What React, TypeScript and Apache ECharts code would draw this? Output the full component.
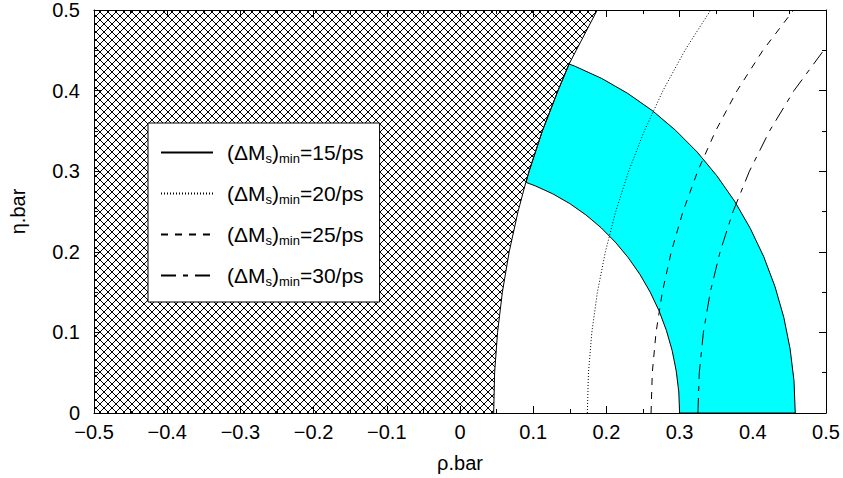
import React, { useEffect, useRef } from 'react';
import * as echarts from 'echarts';

// Axis ranges
const X_RANGE = [-0.5, 0.5];
const Y_RANGE = [0, 0.5];
const TICK_STEP = 0.1;

// Legend values (ΔM_s)_min in 1/ps
const DMS_MIN = ['15', '20', '25', '30'];
const SERIES_NAMES = DMS_MIN.map((v) => `(ΔMs)min=${v}/ps`);

// Points [rho.bar, eta.bar]
const CURVE_15: number[][] = [
  [0.046, 0], [0.0473, 0.05], [0.0513, 0.1], [0.0579, 0.15], [0.0672, 0.2],
  [0.0793, 0.25], [0.0899, 0.2861], [0.0944, 0.3], [0.1125, 0.35], [0.1339, 0.4],
  [0.149, 0.433], [0.1588, 0.45], [0.1875, 0.5],
];
const CURVE_20: number[][] = [
  [0.174, 0], [0.1755, 0.05], [0.1801, 0.1], [0.1877, 0.15], [0.1986, 0.2],
  [0.2127, 0.25], [0.2304, 0.3], [0.2518, 0.35], [0.2773, 0.4], [0.3073, 0.45],
  [0.3425, 0.5],
];
const CURVE_25: number[][] = [
  [0.261, 0], [0.2627, 0.05], [0.2678, 0.1], [0.2764, 0.15], [0.2886, 0.2],
  [0.3046, 0.25], [0.3247, 0.3], [0.3492, 0.35], [0.3786, 0.4], [0.4138, 0.45],
  [0.4558, 0.5],
];
const CURVE_30: number[][] = [
  [0.325, 0], [0.3269, 0.05], [0.3325, 0.1], [0.3419, 0.15], [0.3553, 0.2],
  [0.373, 0.25], [0.3954, 0.3], [0.4229, 0.35], [0.4563, 0.4], [0.4969, 0.45],
  [0.5, 0.453],
];
// Cyan band: outer and inner edges
const BAND_OUTER: number[][] = [
  [0.458, 0], [0.4563, 0.0399], [0.451, 0.0795], [0.4424, 0.1185], [0.4304, 0.1566],
  [0.4151, 0.1936], [0.3966, 0.229], [0.3752, 0.2627], [0.3508, 0.2944], [0.3239, 0.3239],
  [0.2944, 0.3508], [0.2627, 0.3752], [0.229, 0.3966], [0.1936, 0.4151], [0.1566, 0.4304],
  [0.149, 0.433],
];
const BAND_INNER: number[][] = [
  [0.3, 0], [0.2989, 0.0261], [0.2954, 0.0521], [0.2898, 0.0776], [0.2819, 0.1026],
  [0.2719, 0.1268], [0.2598, 0.15], [0.2457, 0.1721], [0.2298, 0.1928], [0.2121, 0.2121],
  [0.1928, 0.2298], [0.1721, 0.2457], [0.15, 0.2598], [0.1268, 0.2719], [0.1026, 0.2819],
  [0.0902, 0.2861],
];

const FONT = 'Liberation Sans, Arial, Helvetica, sans-serif';

export default function App() {
  const ref = useRef<HTMLDivElement>(null);
  useEffect(() => {
    if (!ref.current) return;
    const chart = echarts.init(ref.current, undefined, { renderer: 'svg' });

    const S = 8;
    const cv = document.createElement('canvas');
    cv.width = S;
    cv.height = S;
    const ctx = cv.getContext('2d')!;
    ctx.strokeStyle = '#000';
    ctx.lineWidth = 1;
    ctx.beginPath();
    for (let k = -1; k <= 1; k++) {
      ctx.moveTo(k * S, 0);
      ctx.lineTo(k * S + S, S);
      ctx.moveTo(k * S + S, 0);
      ctx.lineTo(k * S, S);
    }
    ctx.stroke();
    const hatch: any = { image: cv, repeat: 'repeat', imageWidth: S, imageHeight: S };

    const hatchPoly = [[X_RANGE[0], Y_RANGE[0]], ...CURVE_15, [X_RANGE[0], Y_RANGE[1]]];
    const yLo = BAND_INNER[BAND_INNER.length - 1][1];
    const yHi = BAND_OUTER[BAND_OUTER.length - 1][1];
    const bandPoly = [
      ...BAND_OUTER,
      ...CURVE_15.filter((p) => p[1] > yLo && p[1] < yHi).reverse(),
      ...BAND_INNER.slice().reverse(),
    ];

    const fmt = (v: number) => (Math.abs(v) < 1e-9 ? '0' : v.toFixed(1).replace('-', '\u2212'));

    const axisCommon = {
      type: 'value',
      interval: TICK_STEP,
      splitLine: { show: false },
      axisLine: { show: true, onZero: false, lineStyle: { color: '#000', width: 1 } },
      axisTick: { show: true, inside: true, length: 7, lineStyle: { color: '#000' } },
      minorTick: { show: true, splitNumber: 2, length: 4, lineStyle: { color: '#000' } },
      minorSplitLine: { show: false },
    };

    const lineTypes: any[] = ['solid', [1, 2], [7, 7], [15, 7, 5, 7]];
    const curves = [CURVE_15, CURVE_20, CURVE_25, CURVE_30];

    chart.setOption({
      animation: false,
      backgroundColor: '#fff',
      grid: { left: 87, top: 8, width: 739, height: 405 },
      xAxis: [
        {
          ...axisCommon,
          min: X_RANGE[0],
          max: X_RANGE[1],
          position: 'bottom',
          axisLabel: { fontSize: 20, color: '#000', fontFamily: FONT, margin: 9, formatter: fmt },
          name: 'ρ.bar',
          nameLocation: 'middle',
          nameGap: 40,
          nameTextStyle: { fontSize: 20, color: '#000', fontFamily: FONT },
        },
        {
          ...axisCommon,
          min: X_RANGE[0],
          max: X_RANGE[1],
          position: 'top',
          axisLabel: { show: false },
        },
      ],
      yAxis: [
        {
          ...axisCommon,
          min: Y_RANGE[0],
          max: Y_RANGE[1],
          position: 'left',
          axisLabel: { fontSize: 20, color: '#000', fontFamily: FONT, margin: 14, formatter: fmt },
          name: 'η.bar',
          nameLocation: 'middle',
          nameGap: 66,
          nameRotate: 90,
          nameTextStyle: { fontSize: 20, color: '#000', fontFamily: FONT },
        },
        {
          ...axisCommon,
          min: Y_RANGE[0],
          max: Y_RANGE[1],
          position: 'right',
          axisLabel: { show: false },
        },
      ],
      legend: {
        data: SERIES_NAMES,
        orient: 'vertical',
        left: 148,
        top: 123,
        padding: [17, 16, 14, 12],
        itemWidth: 52,
        itemHeight: 14,
        itemGap: 16,
        itemStyle: { color: 'rgba(0,0,0,0)', borderColor: 'rgba(0,0,0,0)', borderWidth: 0, opacity: 0 },
        backgroundColor: '#fff',
        borderColor: '#000',
        borderWidth: 1,
        borderRadius: 0,
        selectedMode: false,
        formatter: (name: string) => {
          const v = name.split('=')[1];
          return `{a|(ΔM}{s|s}{m|)}{s|min}{m|=${v}}`;
        },
        textStyle: {
          color: '#000',
          fontFamily: FONT,
          fontSize: 21,
          rich: {
            a: { fontSize: 21, fontFamily: FONT, color: '#000', lineHeight: 24, padding: [0, 0, 0, 9] },
            m: { fontSize: 21, fontFamily: FONT, color: '#000', lineHeight: 24 },
            s: { fontSize: 13, fontFamily: FONT, color: '#000', lineHeight: 24, padding: [12, 0, 0, 0] },
          },
        },
      },
      series: [
        {
          type: 'custom',
          name: 'hatch',
          silent: true,
          z: 1,
          data: [[0, 0]],
          renderItem: (_p: any, api: any) => ({
            type: 'polygon',
            shape: { points: hatchPoly.map((p) => api.coord(p)) },
            style: { fill: hatch, stroke: 'none' },
          }),
        },
        {
          type: 'custom',
          name: 'band',
          silent: true,
          z: 2,
          data: [[0, 0]],
          renderItem: (_p: any, api: any) => ({
            type: 'polygon',
            shape: { points: bandPoly.map((p) => api.coord(p)) },
            style: { fill: '#00ffff', stroke: '#000', lineWidth: 1 },
          }),
        },
        ...curves.map((c, i) => ({
          type: 'line',
          name: SERIES_NAMES[i],
          data: c,
          z: 3,
          symbol: 'none',
          showSymbol: false,
          smooth: false,
          clip: true,
          lineStyle: { color: '#000', width: 1, type: lineTypes[i] },
          itemStyle: { color: '#000' },
        })),
      ],
    });
    return () => chart.dispose();
  }, []);
  return <div ref={ref} style={{ width: 843, height: 478, position: 'absolute', left: 0, top: 0 }} />;
}
